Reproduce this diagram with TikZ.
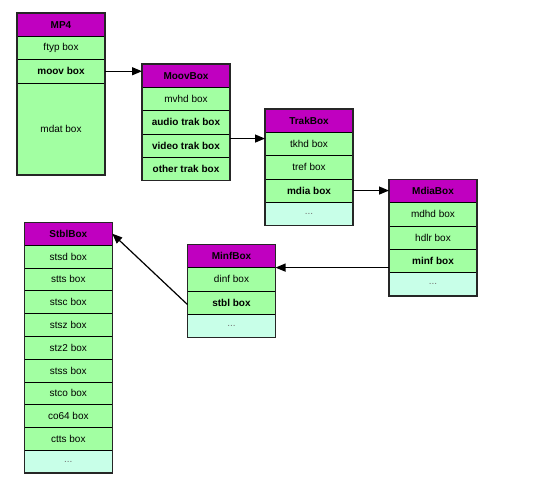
\documentclass[tikz,border=0pt]{standalone}
\usepackage{fontspec}
\setmainfont{Liberation Sans}
\usepackage{tikz}
\usetikzlibrary{positioning,arrows.meta}

\definecolor{hdrpurple}{RGB}{192,0,192}
\definecolor{rowgreen}{RGB}{162,255,162}
\definecolor{morecyan}{RGB}{200,255,232}

\tikzset{
	row/.style={draw=black, line width=0.6pt, fill=rowgreen, minimum width=88pt,
		minimum height=23.3pt, inner sep=0pt, outer sep=0pt,
		font=\fontsize{10}{12}\selectfont},
	brow/.style={row, font=\fontsize{10}{12}\selectfont\bfseries},
	hdr/.style={brow, fill=hdrpurple},
	more/.style={row, fill=morecyan, text=black!55},
	frame/.style={draw=black!85, line width=1.5pt},
	link/.style={-{Triangle[length=10pt,width=8pt]}, line width=1.2pt},
}

\begin{document}
\begin{tikzpicture}[x=1pt,y=-1pt]
		\useasboundingbox (0,0) rectangle (554,484);

		% mp4 file
		\node [hdr, anchor=north west] (mp4) at (17,13) {MP4};
		\node [row, below=0pt of mp4] (ftyp) {ftyp box};
		\node [brow, below=0pt of ftyp] (moov) {moov box};
		\node [row, below=0pt of moov, minimum height=92pt] (mdat) {mdat box};
		\draw [frame] (mp4.north west) rectangle (mdat.south east);

		% moov box
		\node [hdr, anchor=north west] (moovbox) at (142,64) {MoovBox};
		\node [row, below=0pt of moovbox] (mvhd) {mvhd box};
		\node [brow, below=0pt of mvhd] (audio) {audio trak box};
		\node [brow, below=0pt of audio] (video) {video trak box};
		\node [brow, below=0pt of video] (other) {other trak box};
		\draw [frame] (moovbox.north west) rectangle (other.south east);

		% trak box
		\node [hdr, anchor=north west] (trakbox) at (265,109) {TrakBox};
		\node [row, below=0pt of trakbox] (tkhd) {tkhd box};
		\node [row, below=0pt of tkhd] (tref) {tref box};
		\node [brow, below=0pt of tref] (mdia) {mdia box};
		\node [more, below=0pt of mdia] (trakmore) {...};
		\draw [frame] (trakbox.north west) rectangle (trakmore.south east);

		% mdia box
		\node [hdr, anchor=north west] (mdiabox) at (389,179.3) {MdiaBox};
		\node [row, below=0pt of mdiabox] (mdhd) {mdhd box};
		\node [row, below=0pt of mdhd] (hdlr) {hdlr box};
		\node [brow, below=0pt of hdlr] (minf) {minf box};
		\node [more, below=0pt of minf] (mdiamore) {...};
		\draw [frame] (mdiabox.north west) rectangle (mdiamore.south east);

		% minf box
		\node [hdr, anchor=north west] (minfbox) at (187.5,244.3) {MinfBox};
		\node [row, below=0pt of minfbox] (dinf) {dinf box};
		\node [brow, below=0pt of dinf] (stbl) {stbl box};
		\node [more, below=0pt of stbl] (minfmore) {...};
		\draw [frame] (minfbox.north west) rectangle (minfmore.south east);

		% stbl box
		\begin{scope}[row/.append style={minimum height=22.8pt}]
		\node [hdr, anchor=north west] (stblbox) at (24.3,222.3) {StblBox};
		\node [row, below=0pt of stblbox] (stsd) {stsd box};
		\node [row, below=0pt of stsd] (stts) {stts box};
		\node [row, below=0pt of stts] (stsc) {stsc box};
		\node [row, below=0pt of stsc] (stsz) {stsz box};
		\node [row, below=0pt of stsz] (stz2) {stz2 box};
		\node [row, below=0pt of stz2] (stss) {stss box};
		\node [row, below=0pt of stss] (stco) {stco box};
		\node [row, below=0pt of stco] (co64) {co64 box};
		\node [row, below=0pt of co64] (ctts) {ctts box};
		\node [more, below=0pt of ctts] (stblmore) {...};
		\draw [frame] (stblbox.north west) rectangle (stblmore.south east);
		\end{scope}

		% links
		\draw [link] (moov.east) -- (moov.east -| moovbox.west);
		\draw [link] ([yshift=7pt]video.east) -- ([yshift=7pt]video.east -| trakbox.west);
		\draw [link] (mdia.east) -- (mdia.east -| mdiabox.west);
		\draw [link] (minf.west |- minfbox.south) -- (minfbox.south east);
		\draw [link] ([yshift=-2pt]stbl.west) -- (stblbox.east);
	\end{tikzpicture}
\end{document}
